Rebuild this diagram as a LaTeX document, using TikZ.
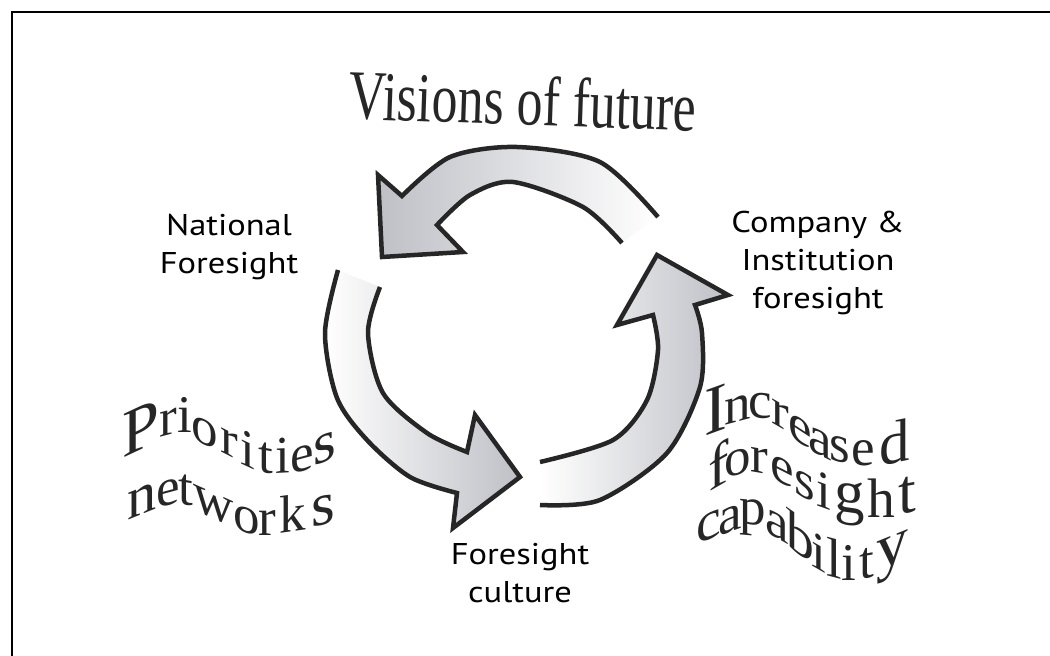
\documentclass[tikz,border=0pt]{standalone}
\usepackage{fontspec}
\newfontfamily\labelfont[FakeStretch=1.15]{PT Sans}
\newfontfamily\titlefont[FakeStretch=0.74]{Liberation Serif}
\newfontfamily\wavefont{Liberation Serif}
\definecolor{rim}{RGB}{38,38,38}
\definecolor{shadegray}{RGB}{190,192,198}

\begin{document}
\begin{tikzpicture}[x=1pt,y=-1pt,
  band/.style={draw=rim,line width=4.5pt,line join=miter},
  stage/.style={font=\labelfont\fontsize{30}{38}\selectfont,align=center,inner sep=0pt,anchor=north},
  glyph/.style={font=\wavefont\fontsize{53}{53}\selectfont,anchor=base,inner sep=0pt,text=black!85}]
  \useasboundingbox (0,0) rectangle (1050,656);
  \draw[line width=2.4pt] (12,12) rectangle (1100,700);

  % top arrow, running right to left
  \draw[band,left color=shadegray,right color=white]
    plot[smooth] coordinates {(658,217) (600,162) (517,147) (450,157) (402,196)}
    -- (378,175) -- (382,257) -- (463,252) -- (437,225)
    -- plot[smooth] coordinates {(437,225) (470,195) (513,182) (583,207) (622,243)};
  % left arrow, running down
  \draw[band,left color=white,right color=shadegray]
    plot[smooth] coordinates {(338,270) (325,333) (337,398) (367,440) (410,477) (457,493)}
    -- (453,528) -- (520,477) -- (475,415) -- (467,452)
    -- plot[smooth] coordinates {(467,452) (427,433) (383,393) (368,333) (380,287)};
  % right arrow, running up
  \draw[band,left color=white,right color=shadegray]
    plot[smooth] coordinates {(540,505) (600,500) (667,453) (700,387) (702,333) (695,305)}
    -- (728,295) -- (657,255) -- (617,325) -- (653,315)
    -- plot[smooth] coordinates {(653,315) (658,350) (647,400) (613,440) (540,462)};

  \node[stage] (national) at (229,214) {National\\Foresight};
  \node[stage] (company) at (818,211) {Company \&\\Institution\\foresight};
  \node[stage] (culture) at (520,543) {Foresight\\culture};

  \node[font=\titlefont\fontsize{70}{70}\selectfont,anchor=base,inner sep=0pt,
        text=black!85,rotate=-2] (visions) at (522,125) {Visions of future};

  % wavy words, one sheared letter at a time: letter/x/baseline/slope/size
  \foreach \ch/\x/\y/\a/\s [count=\i, evaluate=\a as \sl using tan(\a)] in
      {P/141/450/25/1.25, r/168/435/15/1, i/185/432/0/1, o/205/445/-25/1,
       r/229/456/-27/1, i/248/467/-25/1, t/266/473/-10/1, i/283/473/3/1,
       e/302/471/15/1, s/325/462/22/1.1}
    \node[glyph,yslant=\sl,scale=\s] (pri\i) at (\x,\y) {\ch};
  \foreach \ch/\x/\y/\a/\s [count=\i, evaluate=\a as \sl using tan(\a)] in
      {n/142/515/22/1.1, e/168/505/15/1, t/186/505/-10/1, w/214/518/-24/1.05,
       o/247/533/-18/1, r/267/535/0/1, k/293/532/8/1, s/323/525/13/1.15}
    \node[glyph,yslant=\sl,scale=\s] (net\i) at (\x,\y) {\ch};
  \foreach \ch/\x/\y/\a/\s [count=\i, evaluate=\a as \sl using tan(\a)] in
      {I/716/432/20/1.3, n/738/422/15/1, c/760/418/-3/1, r/780/428/-30/1,
       e/800/443/-33/1, a/820/455/-27/1, s/840/462/-13/1, e/863/465/0/1,
       d/895/463/12/1.15}
    \node[glyph,yslant=\sl,scale=\s] (inc\i) at (\x,\y) {\ch};
  \foreach \ch/\x/\y/\a/\s [count=\i, evaluate=\a as \sl using tan(\a)] in
      {f/719/487/30/1.15, o/738/475/15/1, r/759/473/-10/1, e/782/483/-27/1,
       s/805/498/-28/1, i/824/508/-20/1, g/850/513/-8/1.15, h/881/517/0/1.05,
       t/907/513/10/1.2}
    \node[glyph,yslant=\sl,scale=\s] (for\i) at (\x,\y) {\ch};
  \foreach \ch/\x/\y/\a/\s [count=\i, evaluate=\a as \sl using tan(\a)] in
      {c/709/540/25/1.05, a/730/532/20/1, p/753/525/-5/1, a/777/538/-30/1,
       b/800/555/-35/1.05, i/819/570/-30/1, l/834/578/-15/1.05, i/849/580/0/1,
       t/867/578/10/1, y/892/565/22/1.2}
    \node[glyph,yslant=\sl,scale=\s] (cap\i) at (\x,\y) {\ch};
\end{tikzpicture}
\end{document}
